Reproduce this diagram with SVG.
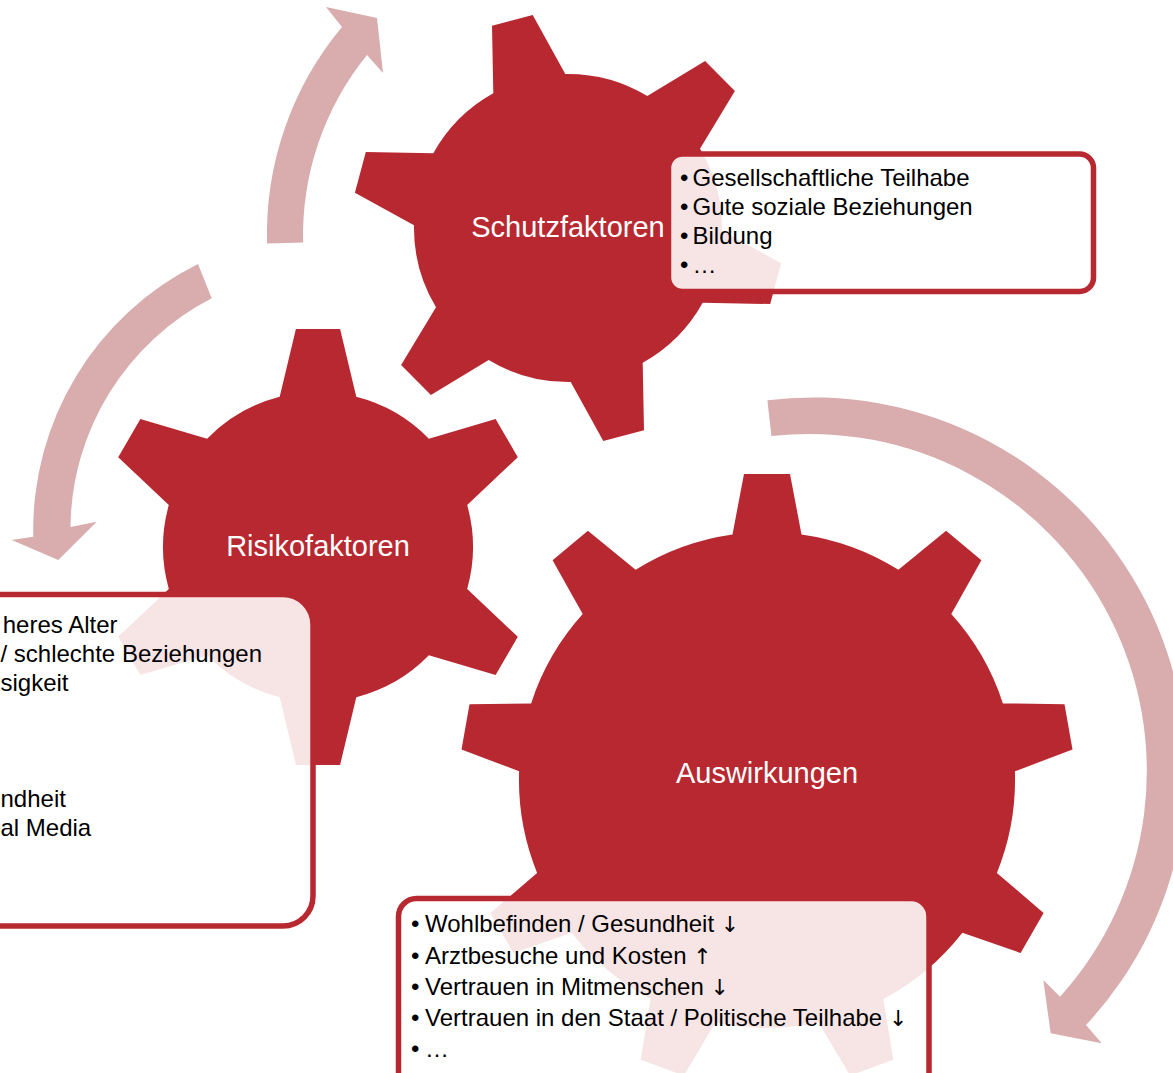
<svg xmlns="http://www.w3.org/2000/svg" width="1173" height="1073" viewBox="0 0 1173 1073">
<style>
.gear{fill:#B82830}
.arrow{fill:#D9ACAD}
.box{fill:#ffffff;fill-opacity:0.88;stroke:#B82830;stroke-width:5.5}
.label{font-family:"Liberation Sans",Arial,sans-serif;font-size:29px;fill:#ffffff;text-anchor:middle}
.item{font-family:"Liberation Sans",Arial,sans-serif;font-size:24px;fill:#000000}
.end{text-anchor:end}
.sym{font-family:"DejaVu Sans",sans-serif;font-size:22px;fill:#000000}
</style>
<rect width="1173" height="1073" fill="#ffffff"/>
<g id="connectors">
  <path id="arrow-top" class="arrow" d="M 267.1,243.5 A 323 323 0 0 1 342,27 L 326,7 L 377,18 L 383,73 L 367,55 A 287 287 0 0 0 303.1,242.5 Z"/>
  <path id="arrow-left" class="arrow" d="M 198,264 A 297 297 0 0 0 33.3,536.7 L 11.7,540 L 58.3,560 L 96.7,521.7 L 70.5,527 A 260 260 0 0 1 211.7,298.3 Z"/>
  <path id="arrow-right" class="arrow" d="M 767.4,400.3 A 373 373 0 0 1 1086,1025 L 1101.7,1043.3 L 1050.7,1033.3 L 1043.3,980 L 1060,996.7 A 337 337 0 0 0 771.4,436.1 Z"/>
</g>
<g id="node-schutzfaktoren">
  <path class="gear" d="M 493.3,93.3 L 492.0,25.8 L 532.7,14.9 L 565.3,74.0 A 154 154 0 0 1 647.3,96.0 L 705.1,61.1 L 734.9,90.9 L 700.0,148.7 A 154 154 0 0 1 722.0,230.7 L 781.1,263.3 L 770.2,304.0 L 702.7,302.7 A 154 154 0 0 1 642.7,362.7 L 644.0,430.2 L 603.3,441.1 L 570.7,382.0 A 154 154 0 0 1 488.7,360.0 L 430.9,394.9 L 401.1,365.1 L 436.0,307.3 A 154 154 0 0 1 414.0,225.3 L 354.9,192.7 L 365.8,152.0 L 433.3,153.3 A 154 154 0 0 1 493.3,93.3 Z"/>
  <text class="label" x="568" y="237">Schutzfaktoren</text>
  <rect class="box" x="668.5" y="154" width="425" height="137.5" rx="14"/>
  <text class="item"><tspan x="680" y="186">•</tspan><tspan x="692.5" y="186">Gesellschaftliche Teilhabe</tspan></text>
  <text class="item"><tspan x="680" y="215">•</tspan><tspan x="692.5" y="215">Gute soziale Beziehungen</tspan></text>
  <text class="item"><tspan x="680" y="244">•</tspan><tspan x="692.5" y="244">Bildung</tspan></text>
  <text class="item"><tspan x="680" y="273">•</tspan><tspan x="692.5" y="273">…</tspan></text>
</g>
<g id="node-risikofaktoren">
  <path class="gear" d="M 279.7,396.8 L 295.9,329.1 L 340.1,329.1 L 356.3,396.8 A 155 155 0 0 1 428.9,438.7 L 495.6,418.9 L 517.8,457.2 L 467.2,505.1 A 155 155 0 0 1 467.2,588.9 L 517.8,636.8 L 495.6,675.1 L 428.9,655.3 A 155 155 0 0 1 356.3,697.2 L 340.1,764.9 L 295.9,764.9 L 279.7,697.2 A 155 155 0 0 1 207.1,655.3 L 140.4,675.1 L 118.2,636.8 L 168.8,588.9 A 155 155 0 0 1 168.8,505.1 L 118.2,457.2 L 140.4,418.9 L 207.1,438.7 A 155 155 0 0 1 279.7,396.8 Z"/>
  <text class="label" x="318" y="556">Risikofaktoren</text>
  <rect class="box" x="-40" y="594.5" width="353" height="331.5" rx="30"/>
  <text class="item end" x="117.5" y="633">heres Alter</text>
  <text class="item end" x="262" y="662">/ schlechte Beziehungen</text>
  <text class="item end" x="68.5" y="690.5">sigkeit</text>
  <text class="item" x="0.5" y="807">ndheit</text>
  <text class="item" x="0.5" y="835.5">al Media</text>
</g>
<g id="node-auswirkungen">
  <path class="gear" d="M 732.5,534.4 L 744.0,473.9 L 790.0,473.9 L 801.5,534.4 A 248 248 0 0 1 898.4,569.7 L 946.1,530.7 L 981.4,560.3 L 951.3,614.1 A 248 248 0 0 1 1002.9,703.4 L 1064.5,704.2 L 1072.5,749.5 L 1014.9,771.3 A 248 248 0 0 1 996.9,872.9 L 1043.6,913.1 L 1020.6,953.0 L 962.4,932.7 A 248 248 0 0 1 883.4,999.0 L 893.3,1059.8 L 850.1,1075.6 L 818.6,1022.6 A 248 248 0 0 1 715.4,1022.6 L 683.9,1075.6 L 640.7,1059.8 L 650.6,999.0 A 248 248 0 0 1 571.6,932.7 L 513.4,953.0 L 490.4,913.1 L 537.1,872.9 A 248 248 0 0 1 519.1,771.3 L 461.5,749.5 L 469.5,704.2 L 531.1,703.4 A 248 248 0 0 1 582.7,614.1 L 552.6,560.3 L 587.9,530.7 L 635.6,569.7 A 248 248 0 0 1 732.5,534.4 Z"/>
  <text class="label" x="767" y="783">Auswirkungen</text>
  <rect class="box" x="398.5" y="898.5" width="530.5" height="200" rx="18"/>
  <text class="item"><tspan x="411" y="932">•</tspan><tspan x="425" y="932">Wohlbefinden / Gesundheit </tspan><tspan class="sym">↓</tspan></text>
  <text class="item"><tspan x="411" y="963.5">•</tspan><tspan x="425" y="963.5">Arztbesuche und Kosten </tspan><tspan class="sym">↑</tspan></text>
  <text class="item"><tspan x="411" y="995">•</tspan><tspan x="425" y="995">Vertrauen in Mitmenschen </tspan><tspan class="sym">↓</tspan></text>
  <text class="item"><tspan x="411" y="1026">•</tspan><tspan x="425" y="1026">Vertrauen in den Staat / Politische Teilhabe </tspan><tspan class="sym">↓</tspan></text>
  <text class="item"><tspan x="411" y="1057">•</tspan><tspan x="425" y="1057">…</tspan></text>
</g>
</svg>
